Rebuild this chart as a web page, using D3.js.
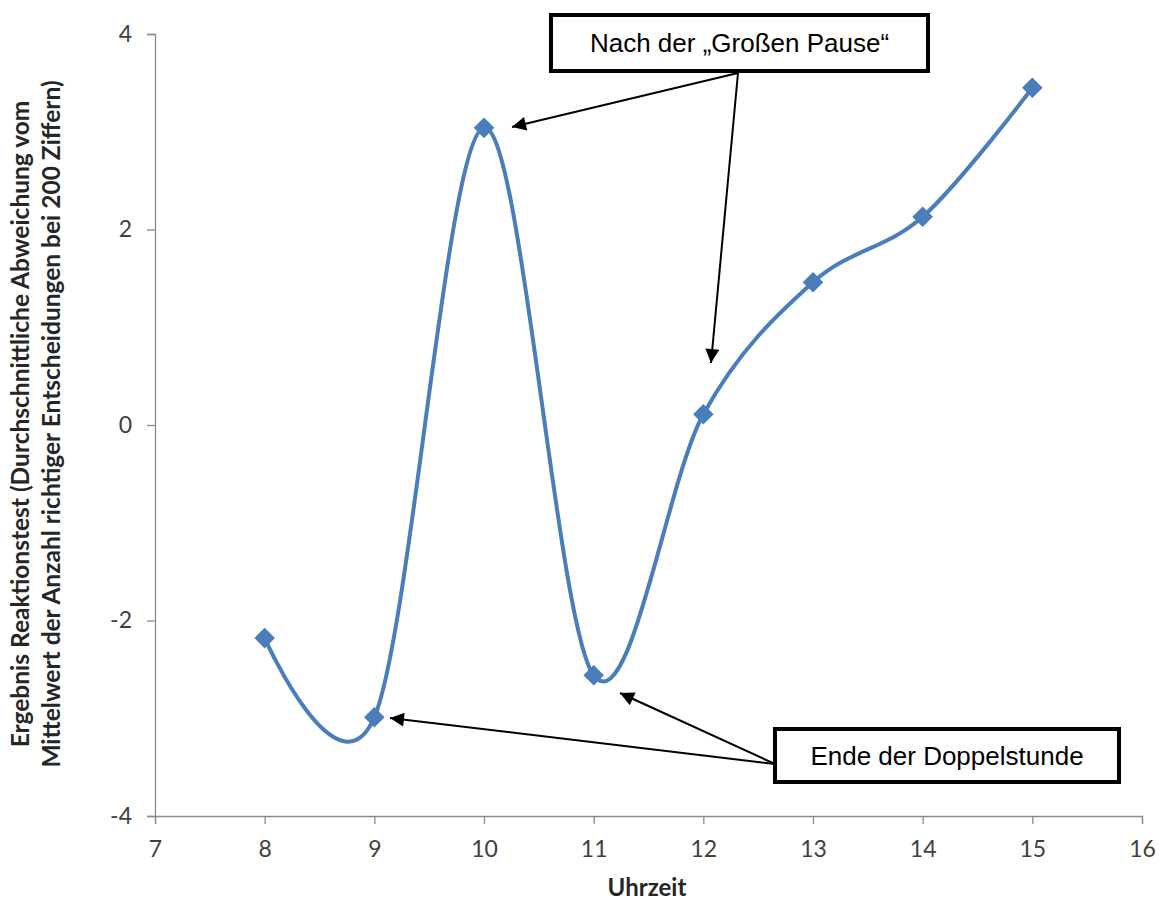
<!DOCTYPE html>
<html>
<head>
<meta charset="utf-8">
<script src="https://cdn.jsdelivr.net/npm/d3@7"></script>
<style>
  html, body { margin: 0; padding: 0; background: #fff; }
  svg { display: block; }
</style>
</head>
<body>
<svg id="chart" width="1159" height="901"></svg>
<script>
// Reaction test results by hour of the day
const hours = [8, 9, 10, 11, 12, 13, 14, 15];
const deviation = [-2.18, -2.99, 3.04, -2.56, 0.11, 1.46, 2.13, 3.45];
const xTicks = [7, 8, 9, 10, 11, 12, 13, 14, 15, 16];
const yTicks = [-4, -2, 0, 2, 4];

const svg = d3.select("#chart");
const margin = { left: 155, right: 1142, top: 34, bottom: 816 };

const x = d3.scaleLinear().domain([7, 16]).range([margin.left, margin.right]);
const y = d3.scaleLinear().domain([-4, 4]).range([margin.bottom, margin.top]);

const axisColor = "#8c8c8c";
const tickFont = "Lato, 'Open Sans', sans-serif";

// Y axis
const yAxis = svg.append("g")
  .attr("transform", `translate(${margin.left},0)`)
  .call(d3.axisLeft(y).tickValues(yTicks).tickSize(8).tickPadding(15));
yAxis.select(".domain").attr("stroke", axisColor).attr("stroke-width", 1.3);
yAxis.selectAll(".tick line").attr("stroke", axisColor).attr("stroke-width", 1.3);
yAxis.selectAll(".tick text")
  .attr("fill", "#404040").style("font-family", tickFont).style("font-size", "23px")
  .text(d => d < 0 ? "-" + Math.abs(d) : d);

// X axis
const xAxis = svg.append("g")
  .attr("transform", `translate(0,${margin.bottom})`)
  .call(d3.axisBottom(x).tickValues(xTicks).tickSize(8).tickPadding(17));
xAxis.select(".domain").attr("stroke", axisColor).attr("stroke-width", 1.3);
xAxis.selectAll(".tick line").attr("stroke", axisColor).attr("stroke-width", 1.3);
xAxis.selectAll(".tick text")
  .attr("fill", "#404040").style("font-family", tickFont).style("font-size", "23px");

// Axis titles
svg.append("text")
  .attr("x", 647).attr("y", 896)
  .attr("text-anchor", "middle")
  .style("font-family", tickFont).style("font-weight", "bold").style("font-size", "24px")
  .attr("fill", "#262626")
  .text("Uhrzeit");

const yTitle = svg.append("text")
  .attr("transform", "translate(0,424) rotate(-90)")
  .attr("text-anchor", "middle")
  .style("font-family", tickFont).style("font-weight", "bold").style("font-size", "24.5px")
  .attr("fill", "#262626");
yTitle.append("tspan").attr("x", 0).attr("y", 29)
  .text("Ergebnis Reaktionstest (Durchschnittliche Abweichung vom");
yTitle.append("tspan").attr("x", 0).attr("y", 60)
  .text("Mittelwert der Anzahl richtiger Entscheidungen bei 200 Ziffern)");

// Smoothed series line
const pts = hours.map((h, i) => [h, deviation[i]]);
const line = d3.line()
  .x(d => x(d[0])).y(d => y(d[1]))
  .curve(d3.curveCardinal.tension(0));

svg.append("path")
  .datum(pts)
  .attr("fill", "none")
  .attr("stroke", "#4a7ebb")
  .attr("stroke-width", 4)
  .attr("stroke-linejoin", "round")
  .attr("d", line);

// Diamond markers
svg.selectAll(".marker")
  .data(pts)
  .enter().append("path")
  .attr("class", "marker")
  .attr("transform", d => `translate(${x(d[0])},${y(d[1])})`)
  .attr("d", d3.symbol().type(d3.symbolDiamond2).size(270))
  .attr("fill", "#4a7ebb");

// Annotation arrows
const defs = svg.append("defs");
defs.append("marker")
  .attr("id", "arrowhead")
  .attr("viewBox", "0 0 10 10")
  .attr("refX", 10).attr("refY", 5)
  .attr("markerWidth", 8).attr("markerHeight", 7)
  .attr("markerUnits", "strokeWidth")
  .attr("orient", "auto")
  .append("path")
  .attr("d", "M0,0 L10,5 L0,10 Z")
  .attr("fill", "#000");

const arrows = [
  { from: [738, 73], to: [512, 127] },
  { from: [738, 73], to: [711, 363] },
  { from: [775, 764], to: [390, 718] },
  { from: [775, 764], to: [620, 693] }
];
svg.selectAll(".arrow")
  .data(arrows)
  .enter().append("line")
  .attr("class", "arrow")
  .attr("x1", d => d.from[0]).attr("y1", d => d.from[1])
  .attr("x2", d => d.to[0]).attr("y2", d => d.to[1])
  .attr("stroke", "#000").attr("stroke-width", 2)
  .attr("marker-end", "url(#arrowhead)");

// Callout boxes
const callouts = [
  { text: "Nach der \u201EGroßen Pause\u201C", x0: 551, y0: 15, x1: 928, y1: 71 },
  { text: "Ende der Doppelstunde", x0: 775, y0: 729, x1: 1119, y1: 782 }
];
const cg = svg.selectAll(".callout").data(callouts).enter().append("g").attr("class", "callout");
cg.append("rect")
  .attr("x", d => d.x0).attr("y", d => d.y0)
  .attr("width", d => d.x1 - d.x0).attr("height", d => d.y1 - d.y0)
  .attr("fill", "#fff").attr("stroke", "#000").attr("stroke-width", 4);
cg.append("text")
  .attr("x", d => (d.x0 + d.x1) / 2).attr("y", d => (d.y0 + d.y1) / 2 + 9)
  .attr("text-anchor", "middle")
  .style("font-family", "'Liberation Sans', Arial, sans-serif").style("font-size", "26px")
  .attr("fill", "#000")
  .text(d => d.text);
</script>
</body>
</html>
